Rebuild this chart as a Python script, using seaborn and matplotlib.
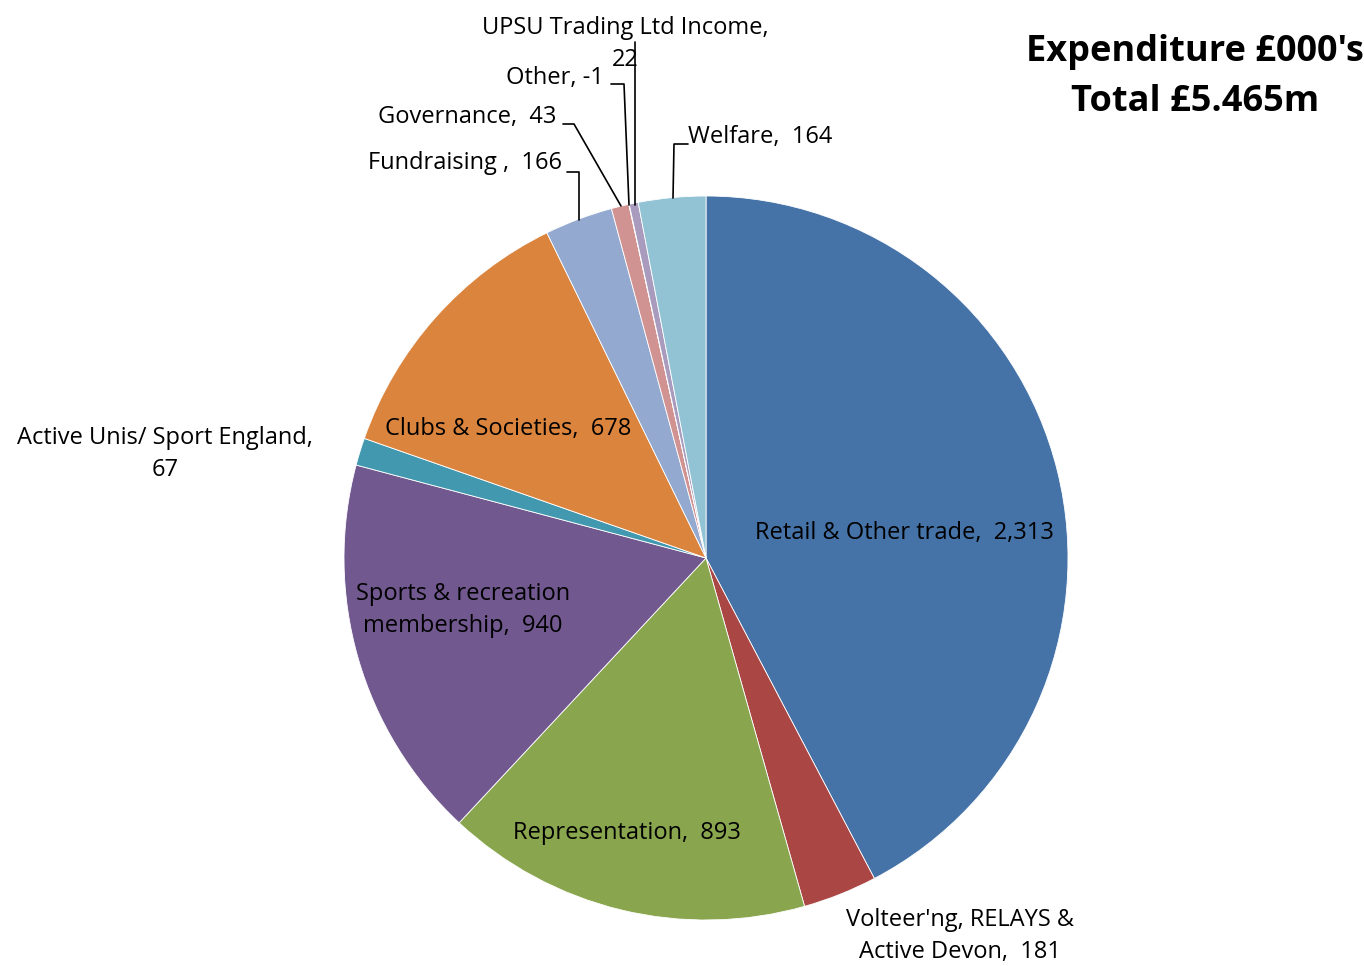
import matplotlib
matplotlib.use("Agg")
import matplotlib.pyplot as plt
import seaborn as sns

# expenditure categories (clockwise from 12 o'clock), £000's
categories = ["Retail & Other trade", "Volteer'ng, RELAYS &\nActive Devon", "Representation",
              "Sports & recreation\nmembership", "Active Unis/ Sport England,\n", "Clubs & Societies",
              "Fundraising ", "Governance", "Other", "UPSU Trading Ltd Income,\n", "Welfare"]
values = [2313, 181, 893, 940, 67, 678, 166, 43, -1, 22, 164]
value_text = ["2,313", "181", "893", "940", "67", "678", "166", "43", "-1", "22", "164"]
colors = ["#4572A7", "#AA4643", "#89A54E", "#71588F", "#4198AF", "#DB843D",
          "#93A9CF", "#D19392", "#B9CD96", "#A99BBD", "#92C3D5"]
title = "Expenditure £000's\nTotal £5.465m"

sns.set_style("white")
plt.rcParams['font.family'] = ['Open Sans', 'DejaVu Sans']
plt.rcParams['text.color'] = 'black'

W, H = 1364, 966
fig = plt.figure(figsize=(W / 100, H / 100), dpi=100)
ax = fig.add_axes([0, 0, 1, 1])

# pie drawn in pixel coordinates (y axis flipped, so counterclock=True runs clockwise on screen)
sizes = [abs(v) for v in values]
ax.pie(sizes, colors=colors, startangle=-90, counterclock=True,
       center=(706, 558), radius=362, frame=True,
       wedgeprops=dict(edgecolor='white', linewidth=0.6))
ax.set_xlim(0, W)
ax.set_ylim(H, 0)
ax.set_aspect('auto')
ax.axis('off')

def lab(i):
    if categories[i].endswith("\n"):
        return categories[i] + value_text[i]
    if categories[i] == "Other":
        return categories[i] + ", " + value_text[i]
    return categories[i] + ",  " + value_text[i]

fs = 17
# label positions and anchors
pos = [(904, 533, 'center'), (960, 936, 'center'), (627, 833, 'center'),
       (463, 610, 'center'), (165, 454, 'center'), (508, 429, 'center'),
       (562, 163, 'right'), (556, 117, 'right'), (604, 78, 'right'),
       (625, 44, 'center'), (688, 137, 'left')]
for i, (x, y, ha) in enumerate(pos):
    ax.text(x, y, lab(i), ha=ha, va='center', fontsize=fs, color='black',
            multialignment='center', linespacing=1.4)

# leader lines for the small slices
leaders = [[(567, 172), (579, 172), (579, 220)],
           [(563, 124), (574, 124), (621, 206)],
           [(611, 84), (624, 84), (629, 205)],
           [(635, 42), (635, 205)],
           [(688, 144), (674, 144), (673, 198)]]
for pts in leaders:
    xs, ys = zip(*pts)
    ax.plot(xs, ys, color='black', linewidth=1.2)

ax.text(1195, 77, title, ha='center', va='center', fontsize=26, fontweight='bold',
        color='black', linespacing=1.5)

fig.savefig("out.png", dpi=100)
